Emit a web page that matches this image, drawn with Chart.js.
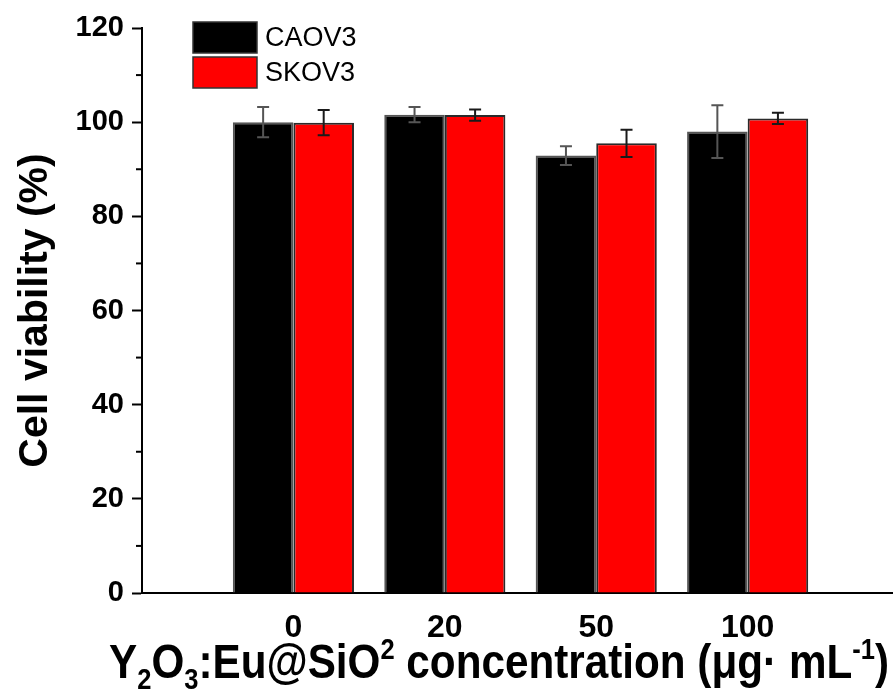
<!DOCTYPE html>
<html>
<head>
<meta charset="utf-8">
<script src="https://cdn.jsdelivr.net/npm/chart.js@4.4.1/dist/chart.umd.min.js"></script>
<style>
  html, body { margin: 0; padding: 0; background: #fff; }
  #wrap { width: 893px; height: 690px; }
</style>
</head>
<body>
<div id="wrap"><canvas id="viability" width="893" height="690"></canvas></div>
<script>
// ------------------------------
// DATA
// ------------------------------
const concLabels = ["0", "20", "50", "100"];
const caovValues = [100.0, 101.6, 92.9, 98.0];
const caovErrors = [3.2, 1.6, 2.0, 5.6];
const skovValues = [99.9, 101.5, 95.5, 100.8];
const skovErrors = [2.7, 1.2, 2.9, 1.2];
const yTicks     = [0, 20, 40, 60, 80, 100, 120];

// x title pieces: [text, 0 normal / -1 subscript / 1 superscript]
const xTitleParts = [
    ["Y", 0], ["2", -1], ["O", 0], ["3", -1], [":Eu@SiO", 0], ["2", 1],
    [" concentration (\u03bcg\u00b7 mL", 0], ["-1", 1], [")", 0]
];

const toPoints = (vals) => vals.map((v, i) => ({ x: i + 1, y: v }));

// ------------------------------
// PLUGINS
// ------------------------------
const errorBars = {
    id: "errorBars",
    afterDatasetsDraw(chart) {
        const { ctx, scales } = chart;
        chart.data.datasets.forEach((ds, di) => {
            const meta = chart.getDatasetMeta(di);
            ctx.save();
            ctx.strokeStyle = ds.errColor;
            ctx.lineWidth = 2;
            meta.data.forEach((bar, i) => {
                const v = ds.data[i].y, e = ds.errors[i];
                const yTop = scales.y.getPixelForValue(v + e);
                const yBot = scales.y.getPixelForValue(v - e);
                ctx.beginPath();
                ctx.moveTo(bar.x, yTop); ctx.lineTo(bar.x, yBot);
                ctx.moveTo(bar.x - 6, yTop); ctx.lineTo(bar.x + 6, yTop);
                ctx.moveTo(bar.x - 6, yBot); ctx.lineTo(bar.x + 6, yBot);
                ctx.stroke();
            });
            ctx.restore();
        });
    }
};

const minorTicks = {
    id: "minorTicks",
    afterDraw(chart) {
        const { ctx, scales } = chart;
        const y = scales.y;
        ctx.save();
        ctx.strokeStyle = "#000";
        ctx.lineWidth = 2;
        for (let i = 0; i < yTicks.length - 1; i++) {
            const py = y.getPixelForValue((yTicks[i] + yTicks[i + 1]) / 2);
            ctx.beginPath();
            ctx.moveTo(y.right - 6, py);
            ctx.lineTo(y.right, py);
            ctx.stroke();
        }
        ctx.restore();
    }
};

const boxLegend = {
    id: "boxLegend",
    afterDraw(chart) {
        const { ctx } = chart;
        ctx.save();
        chart.data.datasets.forEach((ds, i) => {
            const top = 22 + i * 35;
            ctx.fillStyle = ds.backgroundColor;
            ctx.fillRect(193, top, 64, 31);
            ctx.strokeStyle = "#333";
            ctx.lineWidth = 1.5;
            ctx.strokeRect(193, top, 64, 31);
            ctx.fillStyle = "#000";
            ctx.font = "27px 'Liberation Sans', Arial, sans-serif";
            ctx.textBaseline = "middle";
            ctx.fillText(ds.label, 265, top + 17);
        });
        ctx.restore();
    }
};

const xTitle = {
    id: "xTitle",
    afterDraw(chart) {
        const { ctx } = chart;
        const size = 48, small = 29, squeeze = 0.88;
        const fontFor = (k) => "bold " + (k === 0 ? size : small) + "px 'Liberation Sans', Arial, sans-serif";
        ctx.save();
        let total = 0;
        xTitleParts.forEach(([t, k]) => { ctx.font = fontFor(k); total += ctx.measureText(t).width; });
        const right = 889, baseline = 678;
        ctx.translate(right - total * squeeze, baseline);
        ctx.scale(squeeze, 1);
        ctx.fillStyle = "#000";
        ctx.textBaseline = "alphabetic";
        let x = 0;
        xTitleParts.forEach(([t, k]) => {
            ctx.font = fontFor(k);
            const dy = k === -1 ? 11 : (k === 1 ? -19 : 0);
            ctx.fillText(t, x, dy);
            x += ctx.measureText(t).width;
        });
        ctx.restore();
    }
};

// ------------------------------
// CHART
// ------------------------------
new Chart(document.getElementById("viability"), {
    type: "bar",
    data: {
        datasets: [
            {
                label: "CAOV3",
                data: toPoints(caovValues),
                errors: caovErrors,
                errColor: "#555",
                backgroundColor: "#000000",
                borderColor: "#555",
                borderWidth: 2
            },
            {
                label: "SKOV3",
                data: toPoints(skovValues),
                errors: skovErrors,
                errColor: "#1a1a1a",
                backgroundColor: "#ff0000",
                borderColor: "#2a2a2a",
                borderWidth: 2
            }
        ]
    },
    options: {
        responsive: false,
        animation: false,
        categoryPercentage: 0.8,
        barPercentage: 1.0,
        layout: { padding: { top: 28, right: 0, left: 0, bottom: 0 } },
        plugins: { legend: { display: false }, tooltip: { enabled: false } },
        scales: {
            x: {
                type: "linear",
                offset: false,
                min: 0,
                max: 4.96,
                afterBuildTicks: (s) => { s.ticks = concLabels.map((_, i) => ({ value: i + 1 })); },
                afterFit: (s) => { s.height = 97; },
                grid: { display: false, drawTicks: false, offset: false },
                border: { display: true, color: "#000", width: 2 },
                ticks: {
                    padding: 16,
                    color: "#000",
                    font: { family: "'Liberation Sans Narrow', 'Arial Narrow', 'Liberation Sans', sans-serif", size: 32, weight: "bold" },
                    callback: (v) => concLabels[v - 1]
                }
            },
            y: {
                min: 0,
                max: 120,
                afterBuildTicks: (s) => { s.ticks = yTicks.map(v => ({ value: v })); },
                afterFit: (s) => { s.width = 142; },
                grid: { drawOnChartArea: false, drawTicks: true, tickLength: 10, tickWidth: 2, tickColor: "#000" },
                border: { display: true, color: "#000", width: 2 },
                ticks: {
                    padding: 8,
                    color: "#000",
                    font: { family: "'Liberation Sans', Arial, sans-serif", size: 29, weight: "bold" }
                },
                title: {
                    display: true,
                    text: "Cell viability (%)",
                    color: "#000",
                    padding: { top: 11, bottom: 0 },
                    font: { family: "'Liberation Sans', Arial, sans-serif", size: 41, weight: "bold" }
                }
            }
        }
    },
    plugins: [errorBars, minorTicks, boxLegend, xTitle]
});
</script>
</body>
</html>
